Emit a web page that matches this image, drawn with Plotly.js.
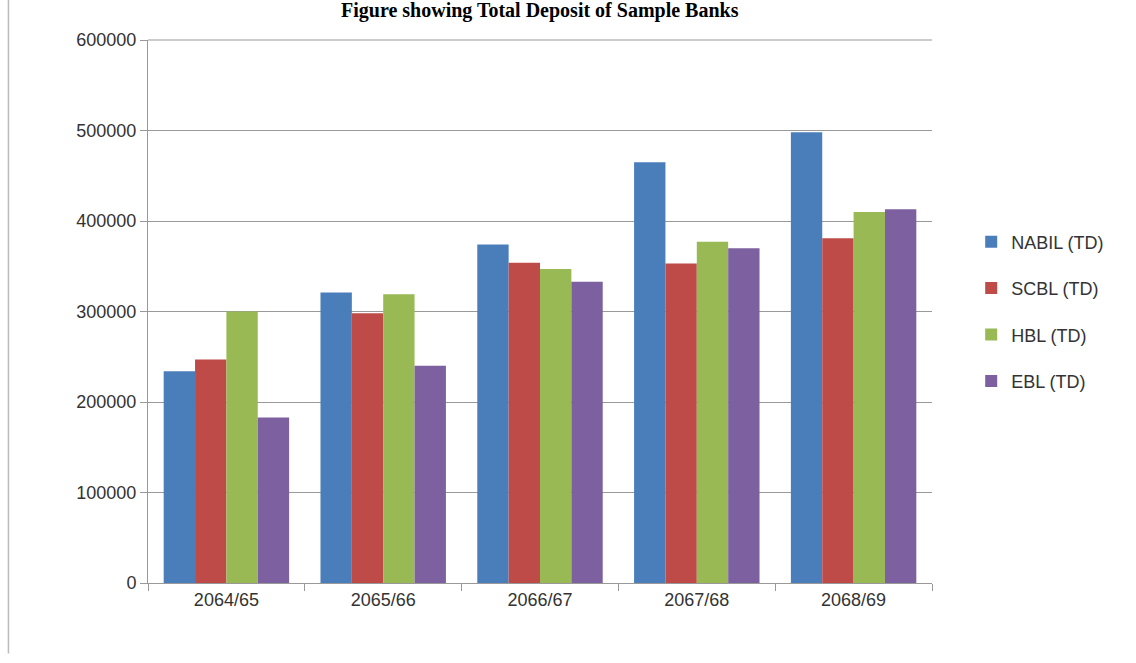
<!DOCTYPE html>
<html>
<head>
<script src="https://cdn.plot.ly/plotly-3.0.1.min.js"></script>
<style>body{margin:0;background:#fff}#chart{width:1136px;height:663px}</style>
</head>
<body>
<div id="chart"></div>
<script>
const years = ["2064/65", "2065/66", "2066/67", "2067/68", "2068/69"];
const nabil = [234000, 321000, 374000, 465000, 498000];
const scbl = [247000, 298000, 354000, 353000, 381000];
const hbl = [300000, 319000, 347000, 377000, 410000];
const ebl = [183000, 240000, 333000, 370000, 413000];

const names = ["NABIL (TD)", "SCBL (TD)", "HBL (TD)", "EBL (TD)"];
const colors = ["#4a7ebb", "#be4b48", "#98b954", "#7d60a0"];
const series = [nabil, scbl, hbl, ebl];

const data = series.map((y, i) => ({
	x: years, y: y, type: "bar", name: names[i], legendgroup: "g" + i,
	marker: { color: colors[i] }
}));

const layout = {
	width: 1136, height: 663,
	paper_bgcolor: "#fff", plot_bgcolor: "#fff",
	font: { family: "Liberation Sans, Arial", size: 18, color: "#333" },
	margin: { l: 148, r: 204, t: 40, b: 80 },
	bargap: 0.2, bargroupgap: 0,
	xaxis: { showline: true, linecolor: "#999", ticks: "outside", ticklen: 7, tickcolor: "#999", tickson: "boundaries" },
	yaxis: { range: [0, 600000], dtick: 100000, showgrid: true, gridcolor: "#999", showline: true, linecolor: "#999", ticks: "outside", tickcolor: "#999", ticklen: 7, tickformat: "d", zeroline: false },
	legend: { x: 1.05, y: 0.5, yanchor: "middle", font: { size: 18 }, traceorder: "grouped", tracegroupgap: 20 },
	annotations: [
		{ text: "<b>Figure showing Total Deposit of Sample Banks</b>", xref: "paper", yref: "paper", x: 0.5, y: 1.055, yanchor: "middle", showarrow: false, font: { family: "Liberation Serif", size: 20, color: "#000" } }
	],
	shapes: [
		{ type: "line", xref: "paper", yref: "paper", x0: 0, x1: 1, y0: 1, y1: 1, line: { color: "#999", width: 1 } },
		{ type: "line", xref: "paper", yref: "paper", x0: -0.178, x1: -0.178, y0: 1.08, y1: -0.13, line: { color: "#bbb", width: 1.5 } }
	]
};

Plotly.newPlot("chart", data, layout, { displayModeBar: false });
</script>
</body>
</html>
